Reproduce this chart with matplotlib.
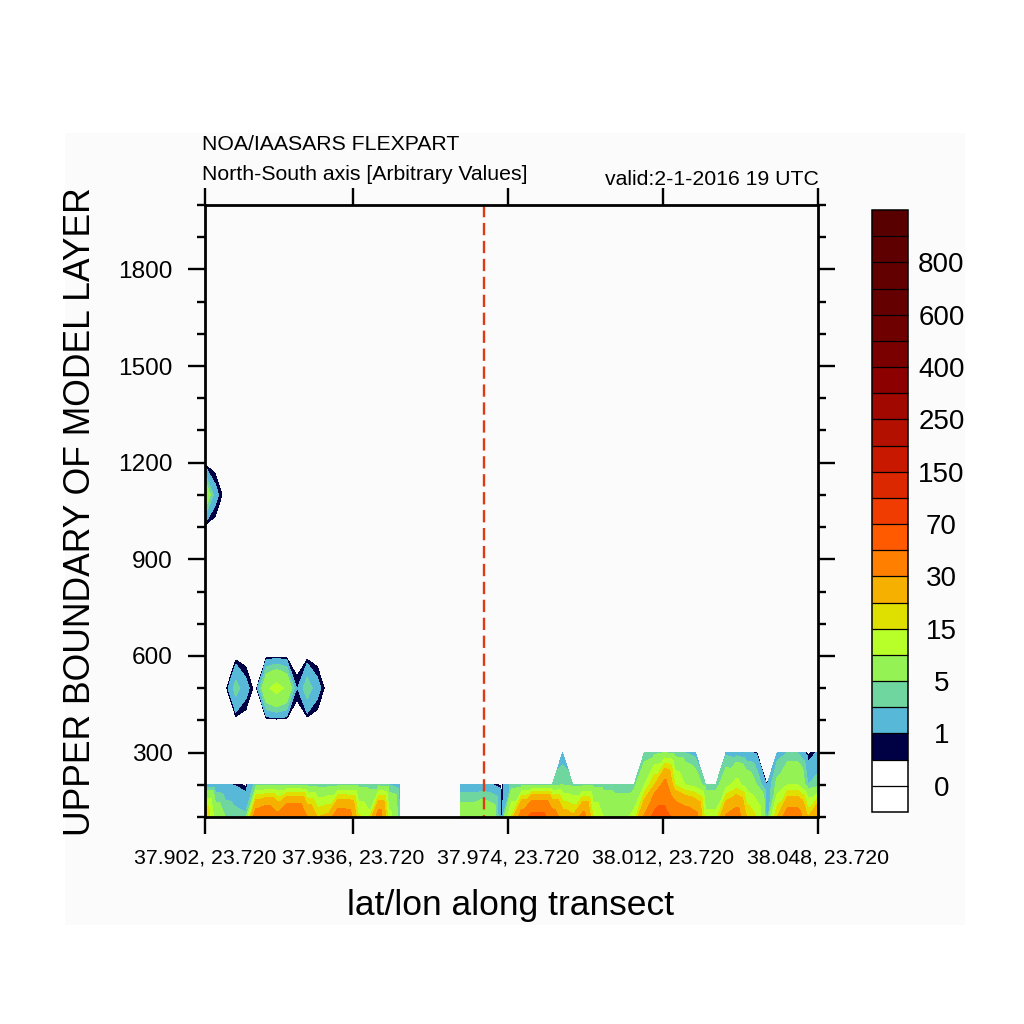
import numpy as np
import matplotlib
matplotlib.use('Agg')
import matplotlib.pyplot as plt
import matplotlib.tri as mtri
from matplotlib.patches import Rectangle
from matplotlib.ticker import FixedLocator, NullLocator

plt.rcParams['font.family'] = ['Liberation Sans', 'DejaVu Sans']

# ---------------- data ----------------
x_index = np.arange(61)                      # grid points along transect
z_levels = np.arange(100, 2001, 100)         # upper boundary of model layer (m)

nan = np.nan
# concentration at z = 100 m
conc_z100 = [22, 8, 5, 4, 3.5, 40, 45, 35, 48, 48, 30, 20, 22, 40, 38, 16, 12, 38, 12, 4,
             nan, nan, nan, nan, nan,
             8, 8, 9, 8, 0.7, 16, 38, 58, 58, 38, 25, 22, 35, 15, 10, 8, 8, 12, 32, 58,
             58, 45, 40, 35, 12, 12, 32, 38, 20, 15, 2, 20, 38, 38, 20, 32]
# concentration at z = 200 m
conc_z200 = [1.5, 1.5, 1.2, 0.9, 0.3, 4, 4.2, 4, 4.5, 4.5, 4, 3.8, 3.8, 4, 4, 3.8, 3.8, 3.8, 3, 2,
             nan, nan, nan, nan, nan,
             1.5, 1.5, 1.5, 1.2, 0.2, 3.5, 4, 4.5, 4.5, 4, 5, 4, 4, 4, 4, 4, 3.8, 4, 10, 20,
             35, 15, 10, 8, 3.5, 3.5, 8, 12, 8, 5, 0.8, 6, 10, 10, 3, 4]
# concentration at z = 300 m (missing where the column has no data)
conc_z300 = [nan] * 35 + [1.8] + [nan] * 7 + [3, 4, 5, 3.5, 3, 2] + [nan, nan] + \
            [2.5, 2, 1.2, 0.8] + [nan] + [2, 3, 3, 0.2, 1.2]
# elevated plumes: {grid point: value}
blob_z500 = {3: 4, 4: 1.5, 6: 9, 7: 12, 8: 9, 9: 0.8, 10: 4.5, 11: 1.5}
blob_z1100 = {0: 9, 1: 1.5}

contour_levels = [0, 0.5, 1, 3, 5, 10, 15, 20, 30, 50, 70, 100, 150, 200, 250,
                  300, 400, 500, 600, 700, 800, 900]
fill_colors = ['#ffffff', '#ffffff', '#000045', '#58b8d8', '#6fd6a0', '#94f255',
               '#b8ff2a', '#e0e000', '#f5b000', '#ff8000', '#ff5a00', '#f03c00',
               '#dc2800', '#c81800', '#b41000', '#a00800', '#8c0000', '#7a0000',
               '#6e0000', '#640000', '#620000', '#5f0000', '#580000']
cbar_ticks = [0, 1, 5, 15, 30, 70, 150, 250, 400, 600, 800]
cbar_labels = ['0', '1', '5', '15', '30', '70', '150', '250', '400', '600', '800']

xtick_pos = [0, 14.49, 29.66, 44.83, 60]
xtick_labels = ['37.902, 23.720', '37.936, 23.720', '37.974, 23.720',
                '38.012, 23.720', '38.048, 23.720']
ytick_major = [300, 600, 900, 1200, 1500, 1800]
ytick_minor = [100, 200, 400, 500, 700, 800, 1000, 1100, 1300, 1400, 1600, 1700, 1900, 2000]
transect_marker = 27.31

# ---------------- assemble field ----------------
nz, nx = len(z_levels), len(x_index)
field = np.zeros((nz, nx))
field[0] = conc_z100
field[1] = conc_z200
field[2] = conc_z300
for k, v in blob_z500.items():
    field[list(z_levels).index(500), k] = v
for k, v in blob_z1100.items():
    field[list(z_levels).index(1100), k] = v

# ---------------- figure ----------------
W = 1024.0
fig = plt.figure(figsize=(10.24, 10.24), dpi=100)
fig.patches.append(Rectangle((65 / W, 1 - 925 / W), 900 / W, 792 / W,
                             transform=fig.transFigure, facecolor='#fbfbfb',
                             edgecolor='none', zorder=-10))

ax = fig.add_axes([205 / W, 1 - 817 / W, 613 / W, 612 / W])
ax.set_facecolor('none')

# surface layer: triangulated, cells touching missing data are masked
surf = field[:3]
valid = np.isfinite(surf)
Xs, Zs = np.meshgrid(x_index, z_levels[:3])
tris = []
for j in range(surf.shape[0] - 1):
    for i in range(nx - 1):
        a, b = j * nx + i, j * nx + i + 1
        c, d = (j + 1) * nx + i + 1, (j + 1) * nx + i
        if (not valid[j, i]) or (not valid[j + 1, i + 1]):
            tris += [[a, b, d], [b, c, d]]
        else:
            tris += [[a, b, c], [a, c, d]]
tris = np.array(tris)
tmask = ~valid.ravel()[tris].all(axis=1)
triang = mtri.Triangulation(Xs.ravel(), Zs.ravel(), tris, mask=tmask)
cs = ax.tricontourf(triang, np.nan_to_num(surf).ravel(), levels=contour_levels,
                    colors=fill_colors, extend='both', antialiased=False)

# elevated part
upper = field[3:]
ax.contourf(x_index, z_levels[3:], upper, levels=contour_levels[1:],
            colors=fill_colors[2:], extend='max', antialiased=False)

ax.plot([transect_marker, transect_marker], [z_levels[-1], z_levels[0]],
        color='#e03a14', lw=1.7, ls=(0, (5.2, 2.4)), zorder=5)

ax.set_xlim(x_index[0], x_index[-1])
ax.set_ylim(z_levels[0], z_levels[-1])

for s in ax.spines.values():
    s.set_linewidth(2.0)
    s.set_zorder(6)

ax.xaxis.set_major_locator(FixedLocator(xtick_pos))
ax.set_xticklabels(xtick_labels)
ax.xaxis.set_minor_locator(NullLocator())
ax.yaxis.set_major_locator(FixedLocator(ytick_major))
ax.yaxis.set_minor_locator(FixedLocator(ytick_minor))
ax.tick_params(axis='both', which='major', direction='out', length=12.2, width=1.7,
               top=True, right=True, bottom=True, left=True)
ax.tick_params(axis='y', which='minor', direction='out', length=6, width=1.7,
               left=True, right=True)
ax.tick_params(axis='x', which='major', labelsize=15.3, pad=10.5)
ax.tick_params(axis='y', which='major', labelsize=17.6, pad=11)

# texts
fig.text(202 / W, 1 - 150 / W, 'NOA/IAASARS FLEXPART', fontsize=15.3,
         ha='left', va='baseline')
fig.text(202 / W, 1 - 180 / W, 'North-South axis [Arbitrary Values]', fontsize=15.3,
         ha='left', va='baseline')
fig.text(819 / W, 1 - 185 / W, 'valid:2-1-2016 19 UTC', fontsize=15.3,
         ha='right', va='baseline')
fig.text(510.5 / W, 1 - 915 / W, 'lat/lon along transect', fontsize=25.5,
         ha='center', va='baseline')
fig.text(81 / W, 1 - 512 / W, 'UPPER BOUNDARY OF MODEL LAYER', fontsize=25.6,
         ha='center', va='center', rotation=90)

# colour bar
cax = fig.add_axes([872 / W, 1 - 812 / W, 36 / W, 602 / W])
cb = fig.colorbar(cs, cax=cax, extendrect=True, extendfrac=1 / 21.0,
                  drawedges=True, ticks=cbar_ticks)
cb.set_ticklabels(cbar_labels)
cax.tick_params(length=0, pad=24, labelsize=20)
for lbl in cax.get_yticklabels():
    lbl.set_horizontalalignment('center')
cb.outline.set_linewidth(1.1)
cb.dividers.set_linewidth(0.9)
cb.dividers.set_color('black')

fig.savefig('out.png', dpi=100, facecolor='white')
